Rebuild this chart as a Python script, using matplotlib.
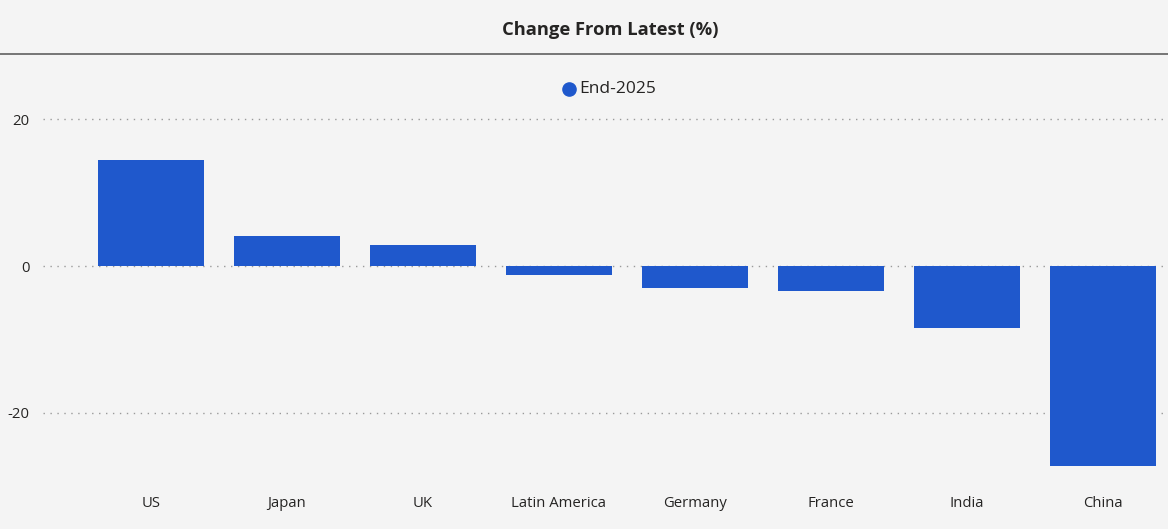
import matplotlib
matplotlib.use("Agg")
import matplotlib.pyplot as plt
from matplotlib.lines import Line2D

categories = ["US", "Japan", "UK", "Latin America", "Germany", "France", "India", "China"]
values = [14.4, 4.1, 2.9, -1.2, -3.0, -3.4, -8.4, -27.2]
series_name = "End-2025"
yticks = [-20, 0, 20]

W, H = 1168, 529
fig = plt.figure(figsize=(W / 100, H / 100), dpi=100)
bg = "#f4f4f4"
fig.patch.set_facecolor(bg)
plt.rcParams['font.family'] = ['Open Sans', 'DejaVu Sans']

ax = fig.add_axes([43 / W, (H - 470) / H, (1168 - 43) / W, 370 / H])
ax.set_facecolor(bg)
color = "#1f58cc"
x = list(range(len(categories)))
ax.bar(x, values, width=0.78, color=color, zorder=3)
ax.set_xlim(-0.794, 7.478)
ax.set_ylim(-27.76, 22.59)
ax.set_yticks(yticks)
ax.set_yticklabels([str(v) for v in yticks], fontsize=10.7, color="#252423")
ax.set_xticks(x)
ax.set_xticklabels(categories, fontsize=10.7, color="#252423")
ax.tick_params(axis="both", length=0)
ax.tick_params(axis="y", pad=9.5)
ax.tick_params(axis="x", pad=19)
ax.yaxis.grid(True, linestyle=(0, (1, 4)), color="#9a9a9a", linewidth=1, zorder=0)
ax.xaxis.grid(False)
for s in ax.spines.values():
    s.set_visible(False)

# title and separator
fig.text(610 / W, 1 - 30 / H, "Change From Latest (%)", ha="center", va="center",
         fontsize=13.2, fontweight="bold", color="#252423")
fig.add_artist(Line2D([0, 1], [1 - 54 / H, 1 - 54 / H], color="#6b6b6b", linewidth=1.3,
                      transform=fig.transFigure))

# legend
fig.add_artist(Line2D([569 / W], [1 - 89 / H], marker="o", markersize=9.5, color=color,
                      linestyle="none", transform=fig.transFigure))
fig.text(579 / W, 1 - 89 / H, series_name, ha="left", va="center", fontsize=12.5, color="#252423")

fig.savefig("out.png", dpi=100, facecolor=bg)
